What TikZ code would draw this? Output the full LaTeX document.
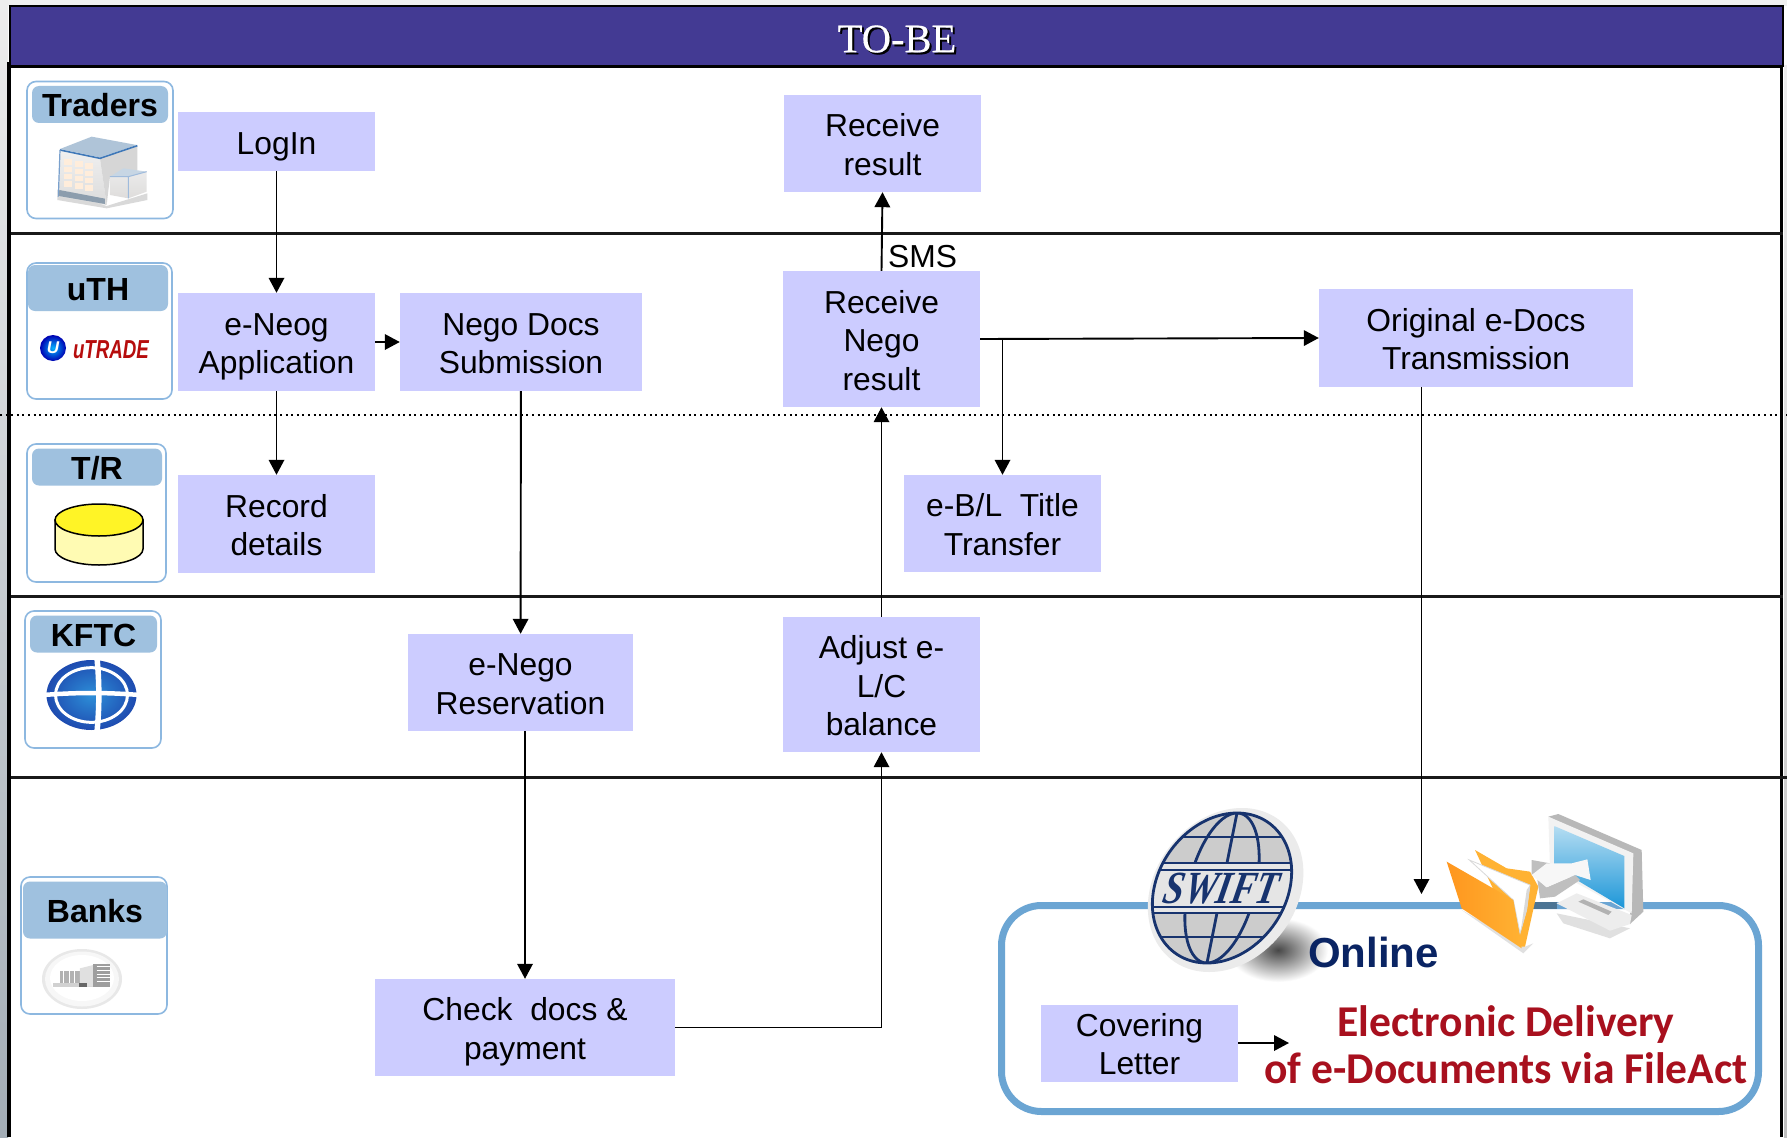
\documentclass[tikz,border=0pt]{standalone}
\usepackage{fontspec}
\setmainfont{Liberation Sans}
\newfontfamily\serifttl{Liberation Serif}
\newfontfamily\serifbold[FakeBold=0.35]{Liberation Serif}
\newfontfamily\calib{Carlito}
\usetikzlibrary{arrows.meta,calc}
\definecolor{hdr}{HTML}{433A93}
\definecolor{boxfill}{HTML}{CCCCFF}
\definecolor{cardedge}{HTML}{8DB8E0}
\definecolor{cardhead}{HTML}{9FC1DF}
\definecolor{onlineedge}{HTML}{6BA5D3}
\definecolor{navytxt}{HTML}{0A2463}
\definecolor{redtxt}{HTML}{A8101E}
\definecolor{swiftblue}{HTML}{17336E}
\definecolor{stripend}{HTML}{A3ADB6}
\definecolor{folderA}{HTML}{FFB233}
\definecolor{folderB}{HTML}{FF961E}
\definecolor{screenA}{HTML}{B5DDF2}
\definecolor{screenB}{HTML}{1C96D8}
\definecolor{bldTop}{HTML}{AFC4D8}
\definecolor{bldEdge}{HTML}{3F78B8}
\definecolor{kftcIn}{HTML}{2D8FD8}
\definecolor{kftcOut}{HTML}{1E4BB0}
\newcommand\bxl{\rule[-6.75pt]{0pt}{38.5pt}}
\tikzset{
  x=1pt,y=-1pt,
  procbox/.style={rectangle,fill=boxfill,inner sep=0pt,align=center,text=black,
    font=\fontsize{31.8}{38.5}\selectfont},
  cardframe/.style={rectangle,rounded corners=9pt,draw=cardedge,line width=1.6pt,fill=white,inner sep=0pt},
  cardtitle/.style={rectangle,rounded corners=7pt,fill=cardhead,inner sep=0pt,text height=24pt,text depth=0pt,
    font=\fontsize{32}{36}\selectfont\bfseries,text=black},
  flow/.style={line width=1.9pt,draw=black,-{Triangle[length=15pt,width=15.5pt]}},
  band/.style={line width=3pt,draw=black!90},
  grid/.style={line width=2.8pt,draw=swiftblue}
}
\begin{document}
\begin{tikzpicture}
\useasboundingbox (0,0) rectangle (1787,1137);
% page background
\fill[white] (0,0) rectangle (1787,1137);
\fill[black!6] (0,0) rectangle (1787,6);
\shade[top color=black!7,bottom color=stripend] (0,0) rectangle (8,1137);
\shade[top color=black!7,bottom color=black!25] (1784,66) rectangle (1787,1137);
% header
\node[rectangle,fill=hdr,draw=black,line width=1.5pt,inner sep=0pt,minimum width=1773pt,minimum height=60pt] (header) at (896.5,36) {};
\node[text=black,font=\fontsize{40.5}{44}\serifbold] (titleshadow) at (899,41) {TO-BE};
\node[text=white,font=\fontsize{40.5}{44}\serifbold] (title) at (897,39) {TO-BE};
% frame
\draw[line width=3.5pt] (9,62) -- (9,1137);
\draw[line width=3pt] (1781,66) -- (1781,1137);
\draw[line width=3.2pt] (9,66.5) -- (1783,66.5);
\draw[band] (11,233) -- (1783,233);
\draw[band] (11,596) -- (1783,596);
\draw[band] (11,777) -- (1787,777);
\draw[line width=1.8pt,dash pattern=on 2pt off 3.6pt] (0,415) -- (1787,415);

% actor cards
\node[cardframe,minimum width=146pt,minimum height=137pt] (cTraders) at (100,150) {};
\node[cardtitle,minimum width=136pt,minimum height=37pt] (hTraders) at (100,104.5) {Traders};
\node[cardframe,minimum width=145pt,minimum height=136pt] (cUth) at (99.5,331) {};
\node[cardtitle,minimum width=140pt,minimum height=46pt] (hUth) at (98,288) {uTH};
\node[cardframe,minimum width=139pt,minimum height=138pt] (cTr) at (96.5,513) {};
\node[cardtitle,minimum width=130pt,minimum height=37pt] (hTr) at (97,467) {T/R};
\node[cardframe,minimum width=136pt,minimum height=137pt] (cKftc) at (93,679.5) {};
\node[cardtitle,minimum width=127pt,minimum height=37pt] (hKftc) at (93.5,634) {KFTC};
\node[cardframe,minimum width=146pt,minimum height=137pt] (cBanks) at (94,945.5) {};
\node[cardtitle,minimum width=144pt,minimum height=57pt] (hBanks) at (95,910) {Banks};

% Traders icon (building)
\begin{scope}[scale=1/3]
  \fill[black!15] (172,570) -- (320,618) -- (442,580) -- (442,600) -- (320,625) -- (172,600) -- cycle;
  \shade[top color=black!6,bottom color=black!14] (180,450) -- (300,475) -- (320,615) -- (175,590) -- cycle;
  \fill[black!16] (300,475) -- (412,437) -- (412,512) -- (330,530) -- (320,615) -- cycle;
  \fill[bldTop] (180,447) -- (275,410) -- (410,435) -- (300,472) -- cycle;
  \draw[bldEdge,line width=1.6pt,line join=round] (180,450) -- (300,475) -- (412,437);
  \draw[bldEdge!70,line width=1.2pt] (180,450) -- (175,590);
  \foreach \r in {0,1,2,3}{\foreach \c in {0,1,2}{
    \fill[orange!14] ({192+\c*32},{478+\r*22+\c*6}) rectangle ++(24,16);}}
  \fill[bldTop!80!black] (178,570) -- (315,596) -- (315,612) -- (176,588) -- cycle;
  \shade[top color=black!8,bottom color=orange!8!black!14] (330,530) -- (440,515) -- (440,575) -- (385,595) -- (330,585) -- cycle;
  \fill[bldTop!70] (330,530) -- (370,505) -- (440,515) -- (385,530) -- cycle;
  \draw[bldEdge!50,line width=1pt] (330,530) -- (385,530) -- (440,515) (385,530) -- (385,595);
\end{scope}

% uTRADE logo
\shade[inner color=cyan!70!blue,outer color=blue!70!black] (53,348) circle (13);
\node[text=white,font=\fontsize{17}{18}\selectfont\bfseries\itshape,inner sep=0pt] (ulogo) at (53,348) {U};
\node[text=red!70!black!95,font=\fontsize{26}{28}\selectfont\bfseries\itshape,inner sep=0pt,xscale=.72,transform shape] (utrade) at (111,350) {uTRADE};

% T/R cylinder
\fill[yellow!30,draw=black,line width=1.5pt] (55,520) -- (55,549) arc[start angle=180,end angle=0,x radius=44,y radius=16] -- (143,520) -- cycle;
\fill[yellow!85!white,draw=black,line width=1.5pt] (99,520) ellipse[x radius=44,y radius=16];

% KFTC logo
\begin{scope}[shift={(91.5,695)},scale=1/3]
  \shade[inner color=kftcIn,outer color=kftcOut] (0,0) ellipse[x radius=135,y radius=105];
  \draw[white,line width=3pt] (0,0) ellipse[x radius=108,y radius=82];
  \draw[white,line width=4.5pt] (-145,0) .. controls (-40,-8) and (40,-8) .. (145,0);
  \draw[white,line width=5.5pt] (16,-115) .. controls (24,-40) and (24,40) .. (16,115);
  \fill[white] (-145,-115) -- (-70,-115) -- (-145,-60) -- cycle;
  \fill[white] (145,-115) -- (70,-115) -- (145,-60) -- cycle;
  \fill[white] (-145,115) -- (-70,115) -- (-145,60) -- cycle;
  \fill[white] (145,115) -- (70,115) -- (145,60) -- cycle;
\end{scope}

% Banks icon
\fill[black!9] (82,979) ellipse[x radius=40,y radius=30];
\fill[black!3] (82,979) ellipse[x radius=37,y radius=27.5];
\fill[white] (82,978) ellipse[x radius=32,y radius=23];
\begin{scope}[shift={(0,840)},scale=1/3]
  \fill[black!18] (158,428) rectangle (330,441);
  \fill[black!30] (180,392) rectangle (240,430);
  \fill[black!12] (240,385) -- (280,375) -- (280,440) -- (240,440) -- cycle;
  \fill[black!38] (280,372) rectangle (330,440);
  \fill[black!60] (238,428) rectangle (262,441);
  \foreach \i in {0,1,2}{\draw[white,line width=.7pt] ({190+\i*17},392) -- ({190+\i*17},430);}
  \foreach \i in {0,1,2,3,4}{\draw[white,line width=.6pt] (290,{380+\i*11}) -- (330,{380+\i*11});}
\end{scope}

% process boxes
\node[procbox,minimum width=197pt,minimum height=59pt] (login) at (276.5,141.5) {\bxl LogIn};
\node[procbox,minimum width=197pt,minimum height=98pt] (neog) at (276.5,342) {\bxl e-Neog\\\bxl Application};
\node[procbox,minimum width=197pt,minimum height=98pt] (record) at (276.5,524) {\bxl Record\\\bxl details};
\node[procbox,minimum width=242pt,minimum height=98pt] (docs) at (521,342) {\bxl Nego Docs\\\bxl Submission};
\node[procbox,minimum width=197pt,minimum height=97pt] (result) at (882.5,143.5) {\bxl Receive\\\bxl result};
\node[procbox,minimum width=197pt,minimum height=136pt] (negoresult) at (881.5,339) {\bxl Receive\\\bxl Nego\\\bxl result};
\node[procbox,minimum width=314pt,minimum height=98pt] (original) at (1476,338) {\bxl Original e-Docs\\\bxl Transmission};
\node[procbox,minimum width=197pt,minimum height=97pt] (ebl) at (1002.5,523.5) {\bxl e-B/L\ \ Title\\\bxl Transfer};
\node[procbox,minimum width=225pt,minimum height=97pt] (reserve) at (520.5,682.5) {\bxl e-Nego\\\bxl Reservation};
\node[procbox,minimum width=197pt,minimum height=135pt] (adjust) at (881.5,684.5) {\bxl Adjust e-\\\bxl L/C\\\bxl balance};
\node[procbox,minimum width=300pt,minimum height=97pt] (check) at (525,1027.5) {\bxl Check\ \ docs \&\\\bxl payment};

% SMS label
\node[anchor=west,inner sep=0pt,font=\fontsize{31.8}{36}\selectfont] (sms) at (888,257) {SMS};

% Online panel
\node[rectangle,rounded corners=40pt,draw=onlineedge,line width=7pt,fill=white,inner sep=0pt,minimum width=757pt,minimum height=206pt] (online) at (1380,1008.5) {};
\coordinate (onlinein) at (1421.5,894);

% SWIFT shadow
\shade[inner color=black!72,outer color=white] (1278,950) ellipse[x radius=50,y radius=32];

% SWIFT globe
\begin{scope}[shift={(1222,888)},xslant=.2]
  \fill[black!8] (4,2) ellipse[x radius=76,y radius=82];
  \begin{scope}
    \clip (0,0) ellipse[x radius=68,y radius=75];
    \fill[black!20] (-90,-90) rectangle (90,90);
    \draw[grid] (0,0) ellipse[x radius=34,y radius=75];
    \draw[grid] (0,-80) -- (0,80);
    \draw[grid] (-90,-51) -- (90,-51);
    \draw[grid] (-90,49) -- (90,49);
    \fill[black!10] (-90,-24) rectangle (90,24);
    \draw[grid] (-90,-25) -- (90,-25);
    \draw[grid] (-90,-18) -- (90,-18);
    \draw[grid] (-90,19) -- (90,19);
    \draw[grid] (-90,25) -- (90,25);
  \end{scope}
  \draw[grid] (0,0) ellipse[x radius=68,y radius=75];
  \node[text=swiftblue,inner sep=0pt,font=\fontsize{46}{50}\serifttl\bfseries\itshape,xscale=.8,transform shape] (swift) at (0,1) {SWIFT};
\end{scope}

% folder + monitor
\begin{scope}[shift={(1430,800)},scale=1/3]
  \fill[black!12] (380,340) -- (600,385) -- (540,415) -- (400,370) -- cycle;
  \fill[black!12] (95,330) -- (280,460) -- (310,430) -- (285,440) -- cycle;
  \fill[onlineedge!70!black] (300,305) rectangle (380,328);
  % monitor
  \fill[black!28] (355,50) -- (385,42) -- (635,150) -- (640,335) -- (600,372) -- (600,180) -- cycle;
  \fill[black!5] (355,50) -- (610,160) -- (605,340) -- (360,205) -- cycle;
  \shade[top color=screenA,bottom color=screenB] (373,78) -- (583,168) -- (583,325) -- (373,200) -- cycle;
  \fill[black!7] (380,310) -- (440,280) -- (605,345) -- (600,372) -- (540,392) -- cycle;
  \fill[black!30] (445,305) -- (460,298) -- (545,335) -- (535,345) -- cycle;
  % folder
  \fill[folderA] (135,150) -- (230,205) -- (300,215) -- (325,260) -- (285,440) -- (270,440) -- cycle;
  \fill[white,draw=black!15,line width=.8pt] (118,180) -- (300,255) -- (290,330) -- (270,400) -- (250,300) -- cycle;
  \fill[black!15] (290,270) -- (300,255) -- (290,330) -- (272,395) -- cycle;
  \shade[left color=folderB,right color=folderA] (50,185) -- (250,300) -- (275,445) -- (95,325) -- cycle;
  % arrow
  \fill[black!25] (305,180) -- (360,190) -- (305,225) -- cycle;
  \fill[black!25] (322,238) -- (350,262) -- (435,225) -- (450,240) -- (375,290) -- (330,295) -- cycle;
  \fill[black!3] (305,225) -- (350,190) -- (425,190) -- (472,178) -- (482,240) -- (435,225) -- (350,262) -- cycle;
\end{scope}

% Online text
\node[text=navytxt,inner sep=0pt,font=\fontsize{42}{46}\selectfont\bfseries] (onlinetxt) at (1373.5,952) {Online};

% covering letter
\node[procbox,minimum width=197pt,minimum height=77pt] (cover) at (1139.5,1043) {\bxl Covering\\\bxl Letter};
\node[text=redtxt,inner sep=0pt,align=center,xscale=.99,transform shape,font=\fontsize{44}{47}\calib\bfseries] (delivery) at (1506,1045) {Electronic Delivery\\of e-Documents via FileAct};
\coordinate (deliveryin) at (1289,1043);

% connectors
\draw[flow] (login) -- (neog);
\draw[flow] (neog) -- (docs);
\draw[flow] (neog) -- (record);
\draw[flow] (docs) -- (reserve);
\draw[flow] (reserve.south -| check.north) -- (check.north);
\draw[flow] (check.east) -| (adjust.south);
\draw[flow] (adjust) -- (negoresult);
\draw[flow] (negoresult.north) -- (result.south);
\draw[flow] (negoresult.east) -- (original.west);
\draw[flow] (ebl.north |- negoresult.east) -- (ebl.north);
\draw[flow] (original.south -| onlinein) -- (onlinein);
\draw[flow] (cover.east) -- (deliveryin);
\end{tikzpicture}
\end{document}
